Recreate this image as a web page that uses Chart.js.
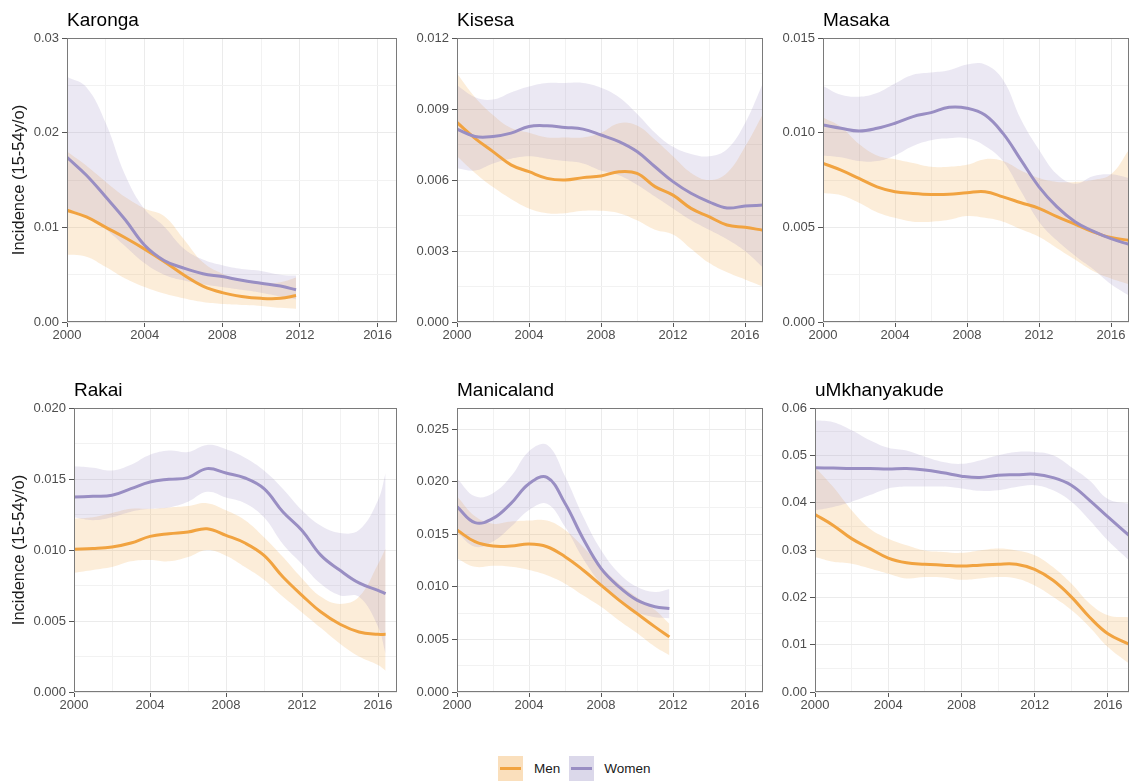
<!DOCTYPE html>
<html>
<head>
<meta charset="utf-8">
<script src="https://cdn.jsdelivr.net/npm/chart.js@4/dist/chart.umd.min.js"></script>
<style>
  body { margin: 0; background: #fff; width: 1131px; height: 782px; position: relative; overflow: hidden;
         font-family: 'Liberation Sans', Arial, sans-serif; }
  canvas { position: absolute; }
  .legend { position: absolute; top: 756px; left: 498px; height: 25px; display: flex; align-items: center;
            font-size: 13.5px; color: #1a1a1a; }
  .key { width: 25px; height: 25px; position: relative; }
  .key span { position: absolute; left: 2px; right: 2px; top: 11px; height: 3px; }
</style>
</head>
<body>
<div class="legend">
  <div class="key" style="background: rgba(241,163,64,0.35)"><span style="background:#f1a340"></span></div>
  <div style="margin: 0 9px 0 11px">Men</div>
  <div class="key" style="background: rgba(153,142,195,0.35)"><span style="background:#998ec3"></span></div>
  <div style="margin-left: 10px">Women</div>
</div>
<script>
// incidence per person-year, 15-54 year olds, smoothed estimate with 95% band

const yearTicks = ["2000", "2004", "2008", "2012", "2016"];

// Karonga
const karongaYears = [2000, 2001, 2002, 2003, 2004, 2005, 2006, 2007, 2008, 2009, 2010, 2011, 2011.8];
const karongaMen = [0.0118, 0.0111, 0.0100, 0.0089, 0.0077, 0.0064, 0.0050, 0.0038, 0.0031, 0.0027, 0.0025, 0.0025, 0.0028];
const karongaMenLo = [0.0071, 0.0069, 0.0058, 0.0046, 0.0037, 0.0030, 0.0025, 0.0021, 0.0019, 0.0018, 0.0017, 0.0015, 0.0014];
const karongaMenHi = [0.0180, 0.0165, 0.0148, 0.0132, 0.0120, 0.0112, 0.0088, 0.0063, 0.0051, 0.0044, 0.0041, 0.0042, 0.0047];
const karongaWomen = [0.0174, 0.0155, 0.0132, 0.0108, 0.0081, 0.0065, 0.0057, 0.0051, 0.0048, 0.0044, 0.0041, 0.0038, 0.0034];
const karongaWomenLo = [0.0120, 0.0112, 0.0098, 0.0080, 0.0062, 0.0050, 0.0044, 0.0040, 0.0037, 0.0034, 0.0031, 0.0027, 0.0024];
const karongaWomenHi = [0.0259, 0.0248, 0.0210, 0.0155, 0.0119, 0.0101, 0.0078, 0.0066, 0.0060, 0.0056, 0.0054, 0.0050, 0.0049];
const karongaTicks = ["0.00", "0.01", "0.02", "0.03"];

// Kisesa
const kisesaYears = [2000, 2001, 2002, 2003, 2004, 2005, 2006, 2007, 2008, 2009, 2010, 2011, 2012, 2013, 2014, 2015, 2016, 2017];
const kisesaMen = [0.00843, 0.00776, 0.0072, 0.00664, 0.00635, 0.00607, 0.0060, 0.0061, 0.00617, 0.00635, 0.00628, 0.00572, 0.00536, 0.0048, 0.00445, 0.0041, 0.0040, 0.00388];
const kisesaMenLo = [0.0070, 0.0063, 0.0057, 0.0052, 0.0048, 0.0046, 0.0046, 0.0047, 0.0047, 0.0046, 0.0043, 0.0039, 0.0037, 0.0031, 0.0025, 0.0021, 0.0018, 0.0015];
const kisesaMenHi = [0.0105, 0.0095, 0.00875, 0.0082, 0.0080, 0.0078, 0.0078, 0.0078, 0.0080, 0.0084, 0.0083, 0.0077, 0.0070, 0.0063, 0.0060, 0.0063, 0.0074, 0.0088];
const kisesaWomen = [0.00815, 0.00784, 0.00784, 0.00798, 0.00826, 0.00829, 0.00822, 0.00815, 0.0079, 0.00762, 0.0072, 0.00656, 0.00593, 0.00544, 0.00508, 0.00482, 0.0049, 0.00494];
const kisesaWomenLo = [0.0065, 0.0064, 0.0067, 0.0069, 0.0070, 0.0069, 0.0068, 0.0067, 0.0064, 0.0062, 0.0058, 0.0053, 0.0048, 0.0043, 0.0039, 0.0035, 0.0030, 0.0023];
const kisesaWomenHi = [0.0100, 0.0095, 0.0094, 0.0097, 0.00995, 0.0101, 0.0101, 0.0101, 0.0099, 0.0095, 0.0088, 0.0080, 0.0074, 0.0071, 0.0070, 0.0073, 0.0084, 0.0101];
const kisesaTicks = ["0.000", "0.003", "0.006", "0.009", "0.012"];

// Masaka
const masakaYears = [2000, 2001, 2002, 2003, 2004, 2005, 2006, 2007, 2008, 2009, 2010, 2011, 2012, 2013, 2014, 2015, 2016, 2017];
const masakaMen = [0.00838, 0.00802, 0.00758, 0.00714, 0.00688, 0.00679, 0.00674, 0.00675, 0.00683, 0.00688, 0.00661, 0.0063, 0.0060, 0.00556, 0.00517, 0.00476, 0.00446, 0.00432];
const masakaMenLo = [0.0068, 0.0067, 0.0063, 0.0058, 0.0055, 0.0053, 0.0053, 0.0054, 0.0056, 0.0055, 0.0053, 0.0049, 0.0045, 0.0039, 0.0033, 0.0027, 0.0023, 0.0020];
const masakaMenHi = [0.0108, 0.0103, 0.0094, 0.0088, 0.0086, 0.0084, 0.0082, 0.0082, 0.0083, 0.0086, 0.0085, 0.0080, 0.0076, 0.0074, 0.0074, 0.0075, 0.0078, 0.0091];
const masakaWomen = [0.0104, 0.01023, 0.01009, 0.01023, 0.0105, 0.01085, 0.01106, 0.01134, 0.01129, 0.01093, 0.00996, 0.00855, 0.00714, 0.00608, 0.0053, 0.0048, 0.0044, 0.0041];
const masakaWomenLo = [0.0088, 0.0087, 0.0085, 0.0085, 0.0088, 0.0093, 0.0096, 0.0097, 0.0097, 0.0093, 0.0085, 0.0069, 0.0053, 0.0043, 0.0035, 0.0028, 0.0020, 0.0014];
const masakaWomenHi = [0.01247, 0.0120, 0.0119, 0.0121, 0.0126, 0.01306, 0.01318, 0.0133, 0.0136, 0.0136, 0.0128, 0.0107, 0.0091, 0.0078, 0.0073, 0.0077, 0.0078, 0.0076];
const masakaTicks = ["0.000", "0.005", "0.010", "0.015"];

// Rakai
const rakaiYears = [2000, 2001, 2002, 2003, 2004, 2005, 2006, 2007, 2008, 2009, 2010, 2011, 2012, 2013, 2014, 2015, 2016, 2016.4];
const rakaiMen = [0.01005, 0.0101, 0.01021, 0.01049, 0.01096, 0.01115, 0.01127, 0.0115, 0.01103, 0.01049, 0.00962, 0.0081, 0.00681, 0.00563, 0.00477, 0.00423, 0.00406, 0.00406];
const rakaiMenLo = [0.0084, 0.0086, 0.0088, 0.0092, 0.0093, 0.0092, 0.0095, 0.0100, 0.0096, 0.0088, 0.0079, 0.0067, 0.0056, 0.0045, 0.0034, 0.0025, 0.0019, 0.0015];
const rakaiMenHi = [0.0122, 0.0123, 0.0126, 0.0129, 0.0129, 0.0130, 0.0131, 0.0133, 0.0128, 0.0121, 0.0109, 0.0095, 0.0080, 0.0067, 0.0062, 0.0067, 0.0090, 0.0101];
const rakaiWomen = [0.01373, 0.01378, 0.01385, 0.01432, 0.01479, 0.01498, 0.0151, 0.01573, 0.01542, 0.01507, 0.01432, 0.01268, 0.01138, 0.00962, 0.00857, 0.00768, 0.00716, 0.00692];
const rakaiWomenLo = [0.0123, 0.0121, 0.0123, 0.0127, 0.0129, 0.0130, 0.0134, 0.0141, 0.0137, 0.0133, 0.0123, 0.0104, 0.0090, 0.0076, 0.0068, 0.0067, 0.0046, 0.0027];
const rakaiWomenHi = [0.0159, 0.0158, 0.0156, 0.0160, 0.0167, 0.0170, 0.0169, 0.0174, 0.0171, 0.0165, 0.0156, 0.0143, 0.0128, 0.0117, 0.0112, 0.0114, 0.0135, 0.0154];
const rakaiTicks = ["0.000", "0.005", "0.010", "0.015", "0.020"];

// Manicaland
const maniYears = [2000, 2001, 2002, 2003, 2004, 2005, 2006, 2007, 2008, 2009, 2010, 2011, 2011.8];
const maniMen = [0.0154, 0.01429, 0.01387, 0.01387, 0.01406, 0.01381, 0.01286, 0.0116, 0.01016, 0.00873, 0.00746, 0.00619, 0.00524];
const maniMenLo = [0.0127, 0.0119, 0.0120, 0.0119, 0.0116, 0.0111, 0.0103, 0.0092, 0.0081, 0.0068, 0.0056, 0.0043, 0.0035];
const maniMenHi = [0.0186, 0.0167, 0.0160, 0.0162, 0.0163, 0.0163, 0.0154, 0.0138, 0.0119, 0.0103, 0.0090, 0.0078, 0.0065];
const maniWomen = [0.01762, 0.0161, 0.0165, 0.01794, 0.0198, 0.0204, 0.01794, 0.0146, 0.01175, 0.0100, 0.00873, 0.0081, 0.00794];
const maniWomenLo = [0.0152, 0.0138, 0.0143, 0.0157, 0.0173, 0.0179, 0.0157, 0.0127, 0.0103, 0.0087, 0.0076, 0.0071, 0.0070];
const maniWomenHi = [0.0203, 0.0186, 0.0189, 0.0205, 0.0229, 0.0235, 0.0205, 0.0167, 0.0135, 0.0113, 0.0100, 0.0095, 0.0098];
const maniTicks = ["0.000", "0.005", "0.010", "0.015", "0.020", "0.025"];

// uMkhanyakude
const umkYears = [2000, 2001, 2002, 2003, 2004, 2005, 2006, 2007, 2008, 2009, 2010, 2011, 2012, 2013, 2014, 2015, 2016, 2017.15];
const umkMen = [0.0375, 0.0352, 0.0324, 0.0303, 0.0283, 0.0273, 0.0270, 0.0268, 0.0266, 0.0268, 0.0270, 0.0270, 0.0259, 0.0236, 0.0201, 0.0158, 0.0123, 0.0101];
const umkMenLo = [0.0285, 0.0275, 0.0271, 0.0261, 0.0250, 0.0240, 0.0243, 0.0242, 0.0237, 0.0240, 0.0243, 0.0240, 0.0225, 0.0201, 0.0173, 0.0137, 0.0095, 0.0060];
const umkMenHi = [0.0475, 0.0433, 0.0384, 0.0345, 0.0324, 0.0310, 0.0299, 0.0296, 0.0294, 0.0299, 0.0303, 0.0299, 0.0289, 0.0264, 0.0229, 0.0187, 0.0162, 0.0158];
const umkWomen = [0.0474, 0.0473, 0.0472, 0.0472, 0.0471, 0.0472, 0.0469, 0.0463, 0.0456, 0.0453, 0.0458, 0.0459, 0.0460, 0.0453, 0.0437, 0.0405, 0.0370, 0.0331];
const umkWomenLo = [0.0384, 0.0391, 0.0402, 0.0416, 0.0430, 0.0434, 0.0434, 0.0434, 0.0430, 0.0425, 0.0426, 0.0433, 0.0437, 0.0426, 0.0402, 0.0363, 0.0320, 0.0278];
const umkWomenHi = [0.0574, 0.0570, 0.0553, 0.0532, 0.0516, 0.0510, 0.0497, 0.0486, 0.0482, 0.0489, 0.0500, 0.0507, 0.0507, 0.0500, 0.0475, 0.0447, 0.0408, 0.0398];
const umkTicks = ["0.00", "0.01", "0.02", "0.03", "0.04", "0.05", "0.06"];

const MEN_LINE = "#f1a340";
const WOMEN_LINE = "#998ec3";
const MEN_BAND = "rgba(241,163,64,0.2)";
const WOMEN_BAND = "rgba(153,142,195,0.2)";

Chart.defaults.font.family = "'Liberation Sans', Arial, sans-serif";
Chart.defaults.animation = false;

// panel border + facet title
const panelFrame = {
  id: "panelFrame",
  afterDraw(chart, args, opts) {
    const { ctx, chartArea: a } = chart;
    ctx.save();
    ctx.strokeStyle = "#7a7a7a";
    ctx.lineWidth = 1;
    ctx.strokeRect(Math.round(a.left) + 0.5, Math.round(a.top) + 0.5,
      Math.round(a.right - a.left) - 1, Math.round(a.bottom - a.top) - 1);
    ctx.fillStyle = "#000";
    ctx.font = "19px 'Liberation Sans', Arial, sans-serif";
    ctx.textBaseline = "alphabetic";
    ctx.fillText(opts.title, a.left, a.top - 12);
    ctx.restore();
  }
};

const near = (a, b) => Math.abs(a - b) < 1e-9;
const points = (xs, ys) => xs.map((x, i) => ({ x: x, y: ys[i] }));

function drawPanel(p) {
  const canvas = document.createElement("canvas");
  canvas.width = p.w;
  canvas.height = 346;
  canvas.style.left = p.left + "px";
  canvas.style.top = p.top + "px";
  document.body.appendChild(canvas);

  const xMajor = yearTicks.map(Number);
  const xGrid = [];
  for (let v = 2000; v <= 2016; v += 2) xGrid.push(v);

  const yMajor = p.yTicks.map(Number);
  const half = (yMajor[1] - yMajor[0]) / 2;
  const yGrid = [];
  for (let k = 0; k * half <= p.yMax + 1e-9; k++) yGrid.push(+(k * half).toFixed(6));

  const isMajorX = v => xMajor.some(m => near(m, v));
  const isMajorY = v => yMajor.some(m => near(m, v));

  const line = (data, color, order) => ({
    data: data, borderColor: color, borderWidth: 3, pointRadius: 0,
    fill: false, tension: 0.4, order: order
  });
  const band = (data, color, fill, order) => ({
    data: data, borderWidth: 0, borderColor: "rgba(0,0,0,0)", backgroundColor: color,
    pointRadius: 0, fill: fill, tension: 0.4, order: order
  });

  new Chart(canvas, {
    type: "line",
    data: {
      datasets: [
        line(points(p.years, p.women), WOMEN_LINE, 0),
        line(points(p.years, p.men), MEN_LINE, 1),
        band(points(p.years, p.womenLo), WOMEN_BAND, false, 2),
        band(points(p.years, p.womenHi), WOMEN_BAND, "-1", 2),
        band(points(p.years, p.menLo), MEN_BAND, false, 3),
        band(points(p.years, p.menHi), MEN_BAND, "-1", 3)
      ]
    },
    options: {
      responsive: false,
      maintainAspectRatio: false,
      layout: { padding: { top: 38, right: p.padR, left: 0, bottom: 0 } },
      plugins: {
        legend: { display: false },
        tooltip: { enabled: false },
        panelFrame: { title: p.title }
      },
      scales: {
        x: {
          type: "linear",
          min: 2000,
          max: p.xMax,
          afterBuildTicks: s => { s.ticks = xGrid.map(v => ({ value: v })); },
          afterFit: s => { s.height = 24; },
          ticks: {
            autoSkip: false, maxRotation: 0, padding: 1,
            color: "#4d4d4d", font: { size: 13 },
            callback: v => (isMajorX(v) ? String(v) : "")
          },
          grid: {
            color: c => (isMajorX(c.tick.value) ? "#ebebeb" : "#f2f2f2"),
            lineWidth: 1,
            tickLength: 5,
            tickColor: c => (isMajorX(c.tick.value) ? "#555" : "rgba(0,0,0,0)")
          },
          border: { display: false }
        },
        y: {
          type: "linear",
          min: 0,
          max: p.yMax,
          afterBuildTicks: s => { s.ticks = yGrid.map(v => ({ value: v })); },
          afterFit: s => { s.width = p.yw; },
          ticks: {
            autoSkip: false, padding: 3,
            color: "#4d4d4d", font: { size: 13 },
            callback: v => {
              const i = yMajor.findIndex(m => near(m, v));
              return i >= 0 ? p.yTicks[i] : "";
            }
          },
          grid: {
            color: c => (isMajorY(c.tick.value) ? "#ebebeb" : "#f2f2f2"),
            lineWidth: 1,
            tickLength: 5,
            tickColor: c => (isMajorY(c.tick.value) ? "#555" : "rgba(0,0,0,0)")
          },
          border: { display: false },
          title: {
            display: !!p.yTitle,
            text: "Incidence (15-54y/o)",
            color: "#1a1a1a",
            font: { size: 16.5 },
            padding: { top: 10, bottom: 0 }
          }
        }
      }
    },
    plugins: [panelFrame]
  });
}

drawPanel({ title: "Karonga", left: 0, top: 0, w: 403, yw: 67, padR: 6, xMax: 2017, yMax: 0.03, yTicks: karongaTicks, yTitle: true,
  years: karongaYears, men: karongaMen, menLo: karongaMenLo, menHi: karongaMenHi,
  women: karongaWomen, womenLo: karongaWomenLo, womenHi: karongaWomenHi });

drawPanel({ title: "Kisesa", left: 410, top: 0, w: 359, yw: 47, padR: 6, xMax: 2017, yMax: 0.012, yTicks: kisesaTicks,
  years: kisesaYears, men: kisesaMen, menLo: kisesaMenLo, menHi: kisesaMenHi,
  women: kisesaWomen, womenLo: kisesaWomenLo, womenHi: kisesaWomenHi });

drawPanel({ title: "Masaka", left: 776, top: 0, w: 355, yw: 47, padR: 2, xMax: 2017, yMax: 0.015, yTicks: masakaTicks,
  years: masakaYears, men: masakaMen, menLo: masakaMenLo, menHi: masakaMenHi,
  women: masakaWomen, womenLo: masakaWomenLo, womenHi: masakaWomenHi });

drawPanel({ title: "Rakai", left: 0, top: 370, w: 403, yw: 74, padR: 6, xMax: 2017, yMax: 0.02, yTicks: rakaiTicks, yTitle: true,
  years: rakaiYears, men: rakaiMen, menLo: rakaiMenLo, menHi: rakaiMenHi,
  women: rakaiWomen, womenLo: rakaiWomenLo, womenHi: rakaiWomenHi });

drawPanel({ title: "Manicaland", left: 410, top: 370, w: 359, yw: 47, padR: 6, xMax: 2017, yMax: 0.027, yTicks: maniTicks,
  years: maniYears, men: maniMen, menLo: maniMenLo, menHi: maniMenHi,
  women: maniWomen, womenLo: maniWomenLo, womenHi: maniWomenHi });

drawPanel({ title: "uMkhanyakude", left: 776, top: 370, w: 355, yw: 39, padR: 2, xMax: 2017.15, yMax: 0.06, yTicks: umkTicks,
  years: umkYears, men: umkMen, menLo: umkMenLo, menHi: umkMenHi,
  women: umkWomen, womenLo: umkWomenLo, womenHi: umkWomenHi });
</script>
</body>
</html>
